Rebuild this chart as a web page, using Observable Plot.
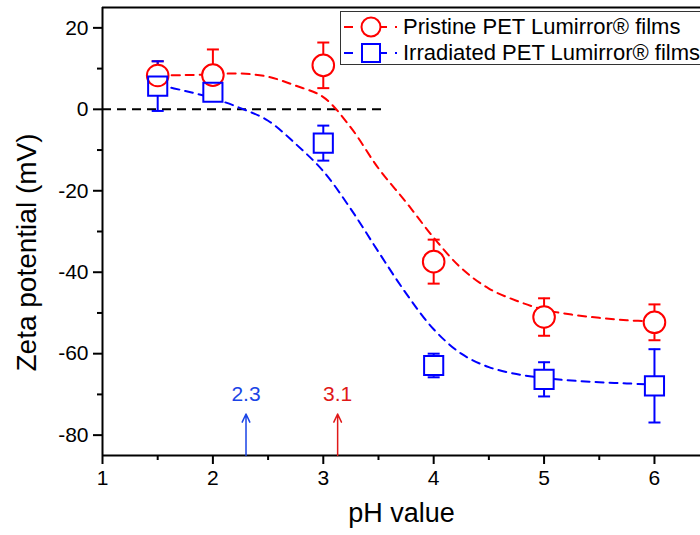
<!DOCTYPE html>
<html>
<head>
<meta charset="utf-8">
<script src="https://cdn.jsdelivr.net/npm/d3@7"></script>
<script src="https://cdn.jsdelivr.net/npm/@observablehq/plot@0.6"></script>
<style>
  html, body { margin: 0; padding: 0; background: #fff; overflow: hidden; }
  #wrap { position: relative; width: 700px; height: 535px; overflow: hidden; font-family: "Liberation Sans", Arial, sans-serif; }
  #legend { position: absolute; left: 340px; top: 11px; width: 420px; height: 54px; border: 1px solid #333; background: #fff; box-sizing: border-box; }
  .row { position: absolute; left: 0; height: 26px; display: flex; align-items: center; font-size: 22px; color: #000; white-space: nowrap; }
  .row svg { flex: none; }
</style>
</head>
<body>
<div id="wrap"></div>
<script>
// ---- data ----
const pH = [1.5, 2, 3, 4, 5, 6];
const pristine = [8.3, 8.4, 10.8, -37.4, -51.0, -52.3];
const pristineErr = [3.5, 6.3, 5.6, 5.4, 4.6, 4.4];
const irradiated = [5.7, 4.2, -8.3, -62.9, -66.3, -67.9];
const irradiatedErr = [6.1, 2.1, 4.3, 2.9, 4.2, 9.0];

// fitted curves
const fitX = [1.5, 1.75, 2.0, 2.25, 2.5, 2.75, 3.0, 3.25, 3.5, 3.75, 4.0, 4.25, 4.5, 4.75, 5.0, 5.25, 5.5, 5.75, 6.0];
const pristineFit = [8.3, 8.4, 8.6, 8.8, 8.0, 5.8, 3.0, -4.5, -14.5, -22.8, -31.5, -39.0, -44.0, -47.0, -49.2, -50.4, -51.2, -51.8, -52.1];
const irradiatedFit = [6.0, 4.5, 2.7, 0.3, -2.8, -8.5, -15.2, -24.5, -35.0, -45.2, -54.0, -60.0, -63.3, -65.0, -66.0, -66.6, -67.0, -67.3, -67.6];

// isoelectric points
const iepX = [2.3, 3.13];
const iepLabels = ["2.3", "3.1"];
const iepColors = ["#1a44e6", "#e01818"];

const seriesNames = ["Pristine PET Lumirror\u00AE films", "Irradiated PET Lumirror\u00AE films"];
const xTicks = [1, 2, 3, 4, 5, 6];
const xMinor = [1.5, 2.5, 3.5, 4.5, 5.5];
const yTicks = [-80, -60, -40, -20, 0, 20];
const yMinor = [-70, -50, -30, -10, 10];

// ---- build tables ----
const RED = "#ff0000", BLUE = "#0000ff";
const pts = [
  ...pH.map((x, i) => ({x, y: pristine[i], e: pristineErr[i], s: 0})),
  ...pH.map((x, i) => ({x, y: irradiated[i], e: irradiatedErr[i], s: 1}))
];
const fitP = fitX.map((x, i) => ({x, y: pristineFit[i]}));
const fitI = fitX.map((x, i) => ({x, y: irradiatedFit[i]}));
const iep = iepX.map((x, i) => ({x, label: iepLabels[i], color: iepColors[i]}));

const cap = { draw(ctx) { ctx.moveTo(-6, 0); ctx.lineTo(6, 0); } };
const colorOf = d => d.s === 0 ? RED : BLUE;
const symOf = d => d.s === 0 ? "circle" : "square";
const rOf = 10.8;

const font = "'Liberation Sans', Arial, sans-serif";
const minus = d => String(d).replace("\u2212", "-");

const chart = Plot.plot({
  width: 700,
  height: 535,
  marginLeft: 102,
  marginTop: 7,
  marginBottom: 80,
  marginRight: 0,
  style: { fontFamily: font, background: "transparent", color: "#000" },
  x: { domain: [1, 6.417] },
  y: { domain: [-85, 25] },
  symbol: { type: "identity" },
  marks: [
    // axes
    Plot.axisX({ ticks: xTicks, tickSize: 9, tickPadding: 6, fontSize: 21, strokeWidth: 2, label: null, tickFormat: d => String(d) }),
    Plot.axisX({ ticks: xMinor, tickSize: 5, tickFormat: () => "", strokeWidth: 2, label: null }),
    Plot.axisY({ ticks: yTicks, tickSize: 9, tickPadding: 5, fontSize: 21, strokeWidth: 2, label: null, tickFormat: d => String(d) }),
    Plot.axisY({ ticks: yMinor, tickSize: 5, tickFormat: () => "", strokeWidth: 2, label: null }),
    Plot.ruleX([1], { stroke: "#000", strokeWidth: 2 }),
    Plot.ruleY([-85], { stroke: "#000", strokeWidth: 2 }),
    Plot.ruleY([25], { stroke: "#000", strokeWidth: 2 }),
    // zero line
    Plot.ruleY([{ y: 0, x1: 1, x2: 3.55 }], { y: "y", x1: "x1", x2: "x2", stroke: "#000", strokeWidth: 2, strokeDasharray: "9,6" }),
    // fits
    Plot.line(fitP, { x: "x", y: "y", curve: "catmull-rom", stroke: RED, strokeWidth: 2, strokeDasharray: "8,6" }),
    Plot.line(fitI, { x: "x", y: "y", curve: "catmull-rom", stroke: BLUE, strokeWidth: 2, strokeDasharray: "8,6" }),
    // error bars
    Plot.ruleX(pts, { x: "x", y1: d => d.y - d.e, y2: d => d.y + d.e, stroke: colorOf, strokeWidth: 2 }),
    Plot.dot(pts, { x: "x", y: d => d.y + d.e, symbol: () => cap, stroke: colorOf, strokeWidth: 2, fill: "none" }),
    Plot.dot(pts, { x: "x", y: d => d.y - d.e, symbol: () => cap, stroke: colorOf, strokeWidth: 2, fill: "none" }),
    // masks + markers
    Plot.dot(pts, { x: "x", y: "y", symbol: symOf, r: rOf, fill: "#fff", stroke: "none" }),
    Plot.dot(pts, { x: "x", y: "y", symbol: symOf, r: rOf, fill: "none", stroke: colorOf, strokeWidth: 2 }),
    // IEP arrows
    Plot.arrow(iep, { x1: "x", x2: "x", y1: -85, y2: -74.8, stroke: "color", strokeWidth: 1.5, headLength: 9, headAngle: 50 }),
    Plot.text(iep, { x: "x", y: -69.9, text: "label", fill: "color", fontSize: 21 }),
    // axis titles
    Plot.text(["pH value"], { frameAnchor: "bottom", dy: 66, fontSize: 27 }),
    Plot.text(["Zeta potential (mV)"], { frameAnchor: "left", textAnchor: "middle", dx: -75, dy: 21, rotate: -90, fontSize: 28 })
  ]
});

const wrap = document.getElementById("wrap");
wrap.appendChild(chart);

// legend
const legend = document.createElement("div");
legend.id = "legend";
const symSvg = (s) => {
  const c = s === 0 ? RED : BLUE;
  const mark = s === 0
    ? `<circle cx="30" cy="13" r="9.5" fill="none" stroke="${c}" stroke-width="2"/>`
    : `<rect x="21" y="4" width="18" height="18" fill="none" stroke="${c}" stroke-width="2"/>`;
  return `<svg width="62" height="26" viewBox="0 0 62 26">
    <line x1="3" y1="13" x2="12" y2="13" stroke="${c}" stroke-width="2"/>
    ${mark}
    <line x1="39" y1="13" x2="46" y2="13" stroke="${c}" stroke-width="2"/>
    <line x1="54" y1="13" x2="56" y2="13" stroke="${c}" stroke-width="2"/>
  </svg>`;
};
seriesNames.forEach((name, s) => {
  const row = document.createElement("div");
  row.className = "row";
  row.style.top = (s === 0 ? 2 : 28) + "px";
  row.innerHTML = symSvg(s) + `<span>${name}</span>`;
  legend.appendChild(row);
});
wrap.appendChild(legend);
</script>
</body>
</html>
